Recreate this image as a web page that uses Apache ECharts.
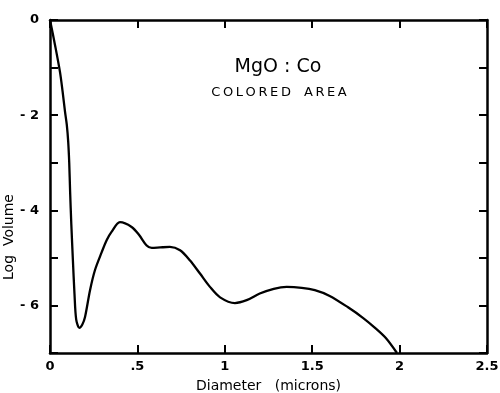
<!DOCTYPE html>
<html>
<head>
<meta charset="utf-8">
<script src="https://cdn.jsdelivr.net/npm/echarts@6/dist/echarts.min.js"></script>
<style>
  html, body { margin: 0; padding: 0; background: #fff; }
  #main { width: 500px; height: 393px; }
</style>
</head>
<body>
<div id="main"></div>
<script>
// diameter (microns) and log volume
var diameter = [0, 0.03, 0.057, 0.072, 0.086, 0.096, 0.104, 0.11, 0.115, 0.122, 0.131, 0.14, 0.15, 0.168, 0.185, 0.2, 0.229, 0.257, 0.296, 0.324, 0.353, 0.4, 0.467, 0.51, 0.553, 0.582, 0.63, 0.686, 0.744, 0.8, 0.858, 0.915, 0.973, 1.058, 1.125, 1.2, 1.28, 1.354, 1.44, 1.515, 1.6, 1.705, 1.79, 1.856, 1.92, 1.985];
var logVolume = [0, -0.55, -1.09, -1.5, -1.93, -2.2, -2.55, -3.0, -3.6, -4.3, -5.05, -5.75, -6.3, -6.47, -6.4, -6.25, -5.68, -5.26, -4.88, -4.63, -4.45, -4.25, -4.35, -4.52, -4.74, -4.79, -4.78, -4.77, -4.84, -5.05, -5.33, -5.61, -5.83, -5.95, -5.89, -5.75, -5.65, -5.61, -5.63, -5.68, -5.8, -6.04, -6.26, -6.46, -6.68, -7];
var xTickLabels = {'0': '0', '0.5': '.5', '1': '1', '1.5': '1.5', '2': '2', '2.5': '2.5'};
var yTickLabels = {'0': '0', '-2': '- 2', '-4': '- 4', '-6': '- 6'};

var points = diameter.map(function (d, i) { return [d, logVolume[i]]; });

var font = 'DejaVu Sans';
var axisLine = { onZero: false, lineStyle: { color: '#000', width: 2.5 } };
var tick = { inside: true, length: 8, lineStyle: { color: '#000', width: 2 } };

var chart = echarts.init(document.getElementById('main'));
chart.setOption({
  animation: false,
  grid: { left: 50, top: 20, right: 13, bottom: 40, outerBoundsMode: 'none', containLabel: false },
  title: [
    { text: 'MgO : Co', left: 273, top: 53, textAlign: 'center',
      textStyle: { fontFamily: font, fontSize: 19, fontWeight: 'normal', color: '#000' } },
    { text: 'C\u2009O\u2009L\u2009O\u2009R\u2009E\u2009D\u2003A\u2009R\u2009E\u2009A', left: 274, top: 81, textAlign: 'center',
      textStyle: { fontFamily: font, fontSize: 13, fontWeight: 'normal', color: '#000' } }
  ],
  graphic: [
    { type: 'text', x: 9, y: 237, rotation: Math.PI / 2,
      style: { text: 'Log  Volume', font: '14px "DejaVu Sans"', fill: '#000',
        textAlign: 'center', textVerticalAlign: 'middle' } }
  ],
  xAxis: [
    { type: 'value', min: 0, max: 2.5, interval: 0.5, position: 'bottom',
      name: 'Diameter   (microns)', nameLocation: 'middle', nameGap: 26,
      nameTextStyle: { fontFamily: font, fontSize: 14, color: '#000' },
      axisLine: axisLine, axisTick: tick, splitLine: { show: false },
      axisLabel: { fontFamily: font, fontSize: 13, fontWeight: 'bold', color: '#000', margin: 7,
        formatter: function (v) { return xTickLabels[String(v)]; } } },
    { type: 'value', min: 0, max: 2.5, interval: 0.5, position: 'top',
      axisLine: axisLine, axisTick: tick, splitLine: { show: false }, axisLabel: { show: false } }
  ],
  yAxis: [
    { type: 'value', min: -7, max: 0, interval: 1, position: 'left',
      axisLine: axisLine, axisTick: tick, splitLine: { show: false },
      axisLabel: { fontFamily: font, fontSize: 13, fontWeight: 'bold', color: '#000', margin: 11,
        formatter: function (v) { return yTickLabels[String(v)] || ''; } } },
    { type: 'value', min: -7, max: 0, interval: 1, position: 'right',
      axisLine: axisLine, axisTick: tick, splitLine: { show: false }, axisLabel: { show: false } }
  ],
  series: [{
    type: 'line',
    data: points,
    smooth: 0.3,
    showSymbol: false,
    lineStyle: { color: '#000', width: 2.3 }
  }]
});
</script>
</body>
</html>
